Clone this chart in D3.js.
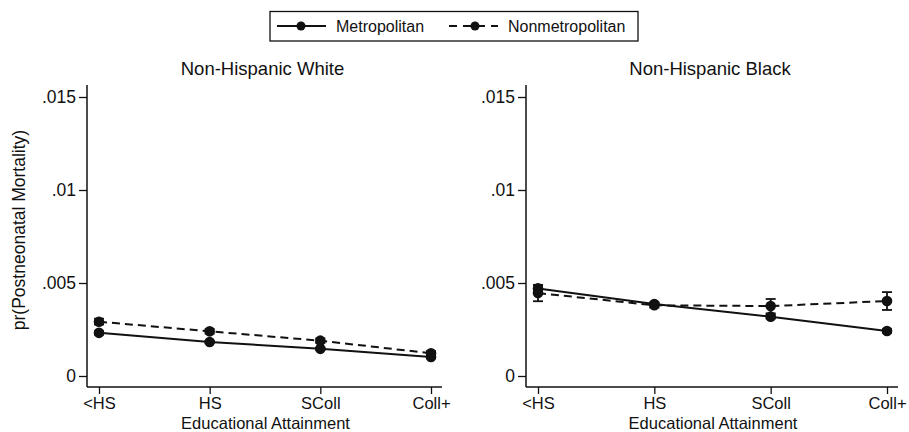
<!DOCTYPE html>
<html><head><meta charset="utf-8">
<script src="https://cdn.jsdelivr.net/npm/d3@7"></script>
<style>
html,body{margin:0;padding:0;background:#fff;}
svg{display:block;font-family:"Liberation Sans",Arial,sans-serif;}
</style></head>
<body>
<svg id="chart" width="909" height="432"></svg>
<script>
const categories = ["<HS", "HS", "SColl", "Coll+"];
const yTicks = [0, 0.005, 0.01, 0.015];
const yTickLabels = ["0", ".005", ".01", ".015"];
const panelTitles = ["Non-Hispanic White", "Non-Hispanic Black"];
const seriesNames = ["Metropolitan", "Nonmetropolitan"];

// Non-Hispanic White
const metroWhite    = [0.00232, 0.00183, 0.00146, 0.00102];
const metroWhiteLo  = [0.00222, 0.00177, 0.00140, 0.00095];
const metroWhiteHi  = [0.00242, 0.00189, 0.00152, 0.00109];
const nonmetroWhite   = [0.00292, 0.00240, 0.00190, 0.00122];
const nonmetroWhiteLo = [0.00277, 0.00228, 0.00178, 0.00110];
const nonmetroWhiteHi = [0.00308, 0.00252, 0.00202, 0.00134];

// Non-Hispanic Black
const metroBlack    = [0.00471, 0.00387, 0.00319, 0.00242];
const metroBlackLo  = [0.00455, 0.00378, 0.00309, 0.00232];
const metroBlackHi  = [0.00487, 0.00396, 0.00329, 0.00252];
const nonmetroBlack   = [0.00446, 0.00380, 0.00376, 0.00403];
const nonmetroBlackLo = [0.00402, 0.00368, 0.00337, 0.00355];
const nonmetroBlackHi = [0.00490, 0.00392, 0.00414, 0.00451];

const panels = [
  {title: panelTitles[0], x0: 87, x1: 442,
   series: [
     {v: metroWhite, lo: metroWhiteLo, hi: metroWhiteHi, dash: null},
     {v: nonmetroWhite, lo: nonmetroWhiteLo, hi: nonmetroWhiteHi, dash: "8,5"}]},
  {title: panelTitles[1], x0: 526, x1: 898,
   series: [
     {v: metroBlack, lo: metroBlackLo, hi: metroBlackHi, dash: null},
     {v: nonmetroBlack, lo: nonmetroBlackLo, hi: nonmetroBlackHi, dash: "8,5"}]}
];

const svg = d3.select("#chart");
const ink = "#111";
const font = "Liberation Sans, Arial, sans-serif";
const yTop = 85, yBottom = 387;
const y = d3.scaleLinear().domain([0, 0.015]).range([376, 97]);

panels.forEach(p => {
  const x = d3.scalePoint().domain(categories).range([p.x0 + 12, p.x1 - 11]);
  const g = svg.append("g");

  // title
  g.append("text").attr("x", (p.x0 + p.x1) / 2 - 2).attr("y", 75)
    .attr("text-anchor", "middle").attr("font-size", 18.5).attr("fill", ink).text(p.title);

  // y axis
  const yAxis = d3.axisLeft(y).tickValues(yTicks).tickSize(8)
    .tickFormat((d, i) => yTickLabels[i]);
  const ya = g.append("g").attr("transform", `translate(${p.x0},0)`).call(yAxis);
  ya.select(".domain").remove();
  ya.selectAll(".tick line").attr("stroke", ink).attr("stroke-width", 1.3);
  ya.selectAll(".tick text").attr("font-size", 17.5).attr("fill", ink)
    .attr("font-family", font).attr("x", -11);
  g.append("line").attr("x1", p.x0).attr("x2", p.x0).attr("y1", yTop).attr("y2", yBottom)
    .attr("stroke", ink).attr("stroke-width", 1.5);

  // x axis
  const xAxis = d3.axisBottom(x).tickSize(7).tickSizeOuter(0);
  const xa = g.append("g").attr("transform", `translate(0,${yBottom})`).call(xAxis);
  xa.select(".domain").remove();
  xa.selectAll(".tick line").attr("stroke", ink).attr("stroke-width", 1.3);
  xa.selectAll(".tick text").attr("font-size", 16.5).attr("fill", ink)
    .attr("font-family", font).attr("y", 0).attr("dy", "22px");
  g.append("line").attr("x1", p.x0).attr("x2", p.x1).attr("y1", yBottom).attr("y2", yBottom)
    .attr("stroke", ink).attr("stroke-width", 1.5);
  g.append("text").attr("x", (p.x0 + p.x1) / 2 + 1).attr("y", 428.5)
    .attr("text-anchor", "middle").attr("font-size", 16.5).attr("fill", ink).text("Educational Attainment");

  // series
  p.series.forEach(s => {
    const line = d3.line().x((d, i) => x(categories[i])).y(d => y(d));
    g.append("path").attr("d", line(s.v)).attr("fill", "none").attr("stroke", ink)
      .attr("stroke-width", 2).attr("stroke-dasharray", s.dash);
    categories.forEach((c, i) => {
      const cx = x(c);
      g.append("line").attr("x1", cx).attr("x2", cx).attr("y1", y(s.lo[i])).attr("y2", y(s.hi[i]))
        .attr("stroke", ink).attr("stroke-width", 1.8);
      [s.lo[i], s.hi[i]].forEach(v => {
        g.append("line").attr("x1", cx - 5).attr("x2", cx + 5).attr("y1", y(v)).attr("y2", y(v))
          .attr("stroke", ink).attr("stroke-width", 1.8);
      });
      g.append("circle").attr("cx", cx).attr("cy", y(s.v[i])).attr("r", 5.3).attr("fill", ink);
    });
  });
});

// y label
svg.append("text").attr("transform", "translate(25,230) rotate(-90)")
  .attr("text-anchor", "middle").attr("font-size", 17.5).attr("fill", ink)
  .text("pr(Postneonatal Mortality)");

// legend
const lg = svg.append("g");
lg.append("rect").attr("x", 270).attr("y", 11.5).attr("width", 368).attr("height", 29.5)
  .attr("fill", "#fff").attr("stroke", ink).attr("stroke-width", 1.3);
const legendItems = [
  {name: seriesNames[0], lx0: 277, lx1: 326, mx: 301, tx: 336, dash: null},
  {name: seriesNames[1], lx0: 449, lx1: 498, mx: 475, tx: 508, dash: "8,6"}
];
legendItems.forEach(it => {
  lg.append("line").attr("x1", it.lx0).attr("x2", it.lx1).attr("y1", 26).attr("y2", 26)
    .attr("stroke", ink).attr("stroke-width", 2).attr("stroke-dasharray", it.dash);
  lg.append("circle").attr("cx", it.mx).attr("cy", 26).attr("r", 4.5).attr("fill", ink);
  lg.append("text").attr("x", it.tx).attr("y", 32).attr("font-size", 16).attr("fill", ink).text(it.name);
});
</script>
</body></html>
